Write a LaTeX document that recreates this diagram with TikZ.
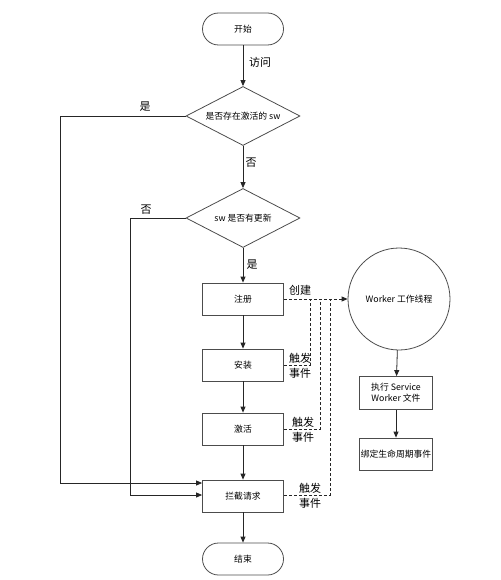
\documentclass[tikz,border=0pt]{standalone}
\usepackage{fontspec}
\setmainfont{Noto Sans CJK SC}
\usetikzlibrary{shapes.geometric,arrows.meta}
\begin{document}
\begin{tikzpicture}[x=1pt,y=-1pt,
  line/.style={draw=black!85, line width=0.8pt},
  arr/.style={line, -{Triangle[length=6pt,width=5pt]}},
  dsh/.style={line, dash pattern=on 3pt off 2pt},
  dsharr/.style={dsh, -{Triangle[length=6pt,width=5pt]}},
  box/.style={draw=black!70, line width=0.8pt, minimum width=81pt, minimum height=32pt, inner sep=1pt, font=\fontsize{8.8}{11}\selectfont},
  sbox/.style={box, minimum width=73pt, minimum height=33pt, align=center},
  pill/.style={box, rounded corners=16pt},
  dia/.style={draw=black!70, line width=0.8pt, diamond, aspect=1.93, minimum width=114pt, minimum height=59pt, inner sep=0pt, font=\fontsize{8.8}{11}\selectfont},
  lbl/.style={font=\fontsize{11}{13}\selectfont, inner sep=0pt}
]
\useasboundingbox (0,0) rectangle (500,580);
\node[pill] (start) at (243,29) {开始};
\node[dia] (d1) at (243,116) {是否存在激活的 sw};
\node[dia] (d2) at (243,218) {sw 是否有更新};
\node[box] (reg) at (243,299) {注册};
\node[box] (inst) at (243,365) {安装};
\node[box] (act) at (243,429) {激活};
\node[box] (ib) at (243,496) {拦截请求};
\node[pill] (end) at (243,559) {结束};
\node[draw=black!70, line width=0.8pt, circle, minimum size=102pt, inner sep=0pt, font=\fontsize{8.8}{11}\selectfont] (wk) at (399,299) {Worker 工作线程};
\node[sbox] (exec) at (396,393) {执行 Service\\Worker 文件};
\node[sbox, minimum height=32pt] (bind) at (396,454) {绑定生命周期事件};

\coordinate (c1) at (60,116);
\coordinate (c2) at (130,218);
\coordinate (v1) at (310,299);
\coordinate (v2) at (320,299);
\coordinate (v3) at (330,299);

\draw[arr] (start) -- (d1);
\draw[arr] (d1) -- (d2);
\draw[arr] (d2) -- (reg);
\draw[arr] (reg) -- (inst);
\draw[arr] (inst) -- (act);
\draw[arr] (act) -- (ib);
\draw[arr] (ib) -- (end);
\draw[arr] (wk) -- (exec);
\draw[arr] (exec) -- (bind);
\draw[arr] (d1.west) -- (c1) |- ([yshift=13pt]ib.west);
\draw[arr] (d2.west) -- (c2) |- ([yshift=1pt]ib.west);

\draw[dsharr] (reg.east) -- (wk.west);
\draw[dsh] (inst.east) -| (v1);
\draw[dsh] (act.east) -| (v2);
\draw[dsh] ([yshift=1pt]ib.east) -| (v3);

\node[lbl] at (260,62) {访问};
\node[lbl] at (145,107) {是};
\node[lbl] at (251,163) {否};
\node[lbl] at (146,210) {否};
\node[lbl] at (252,265) {是};
\node[lbl] at (300,290) {创建};
\node[lbl] at (300,358) {触发};
\node[lbl] at (300,373) {事件};
\node[lbl] at (303,422) {触发};
\node[lbl] at (303,437) {事件};
\node[lbl] at (310,488) {触发};
\node[lbl] at (310,503) {事件};
\end{tikzpicture}
\end{document}
